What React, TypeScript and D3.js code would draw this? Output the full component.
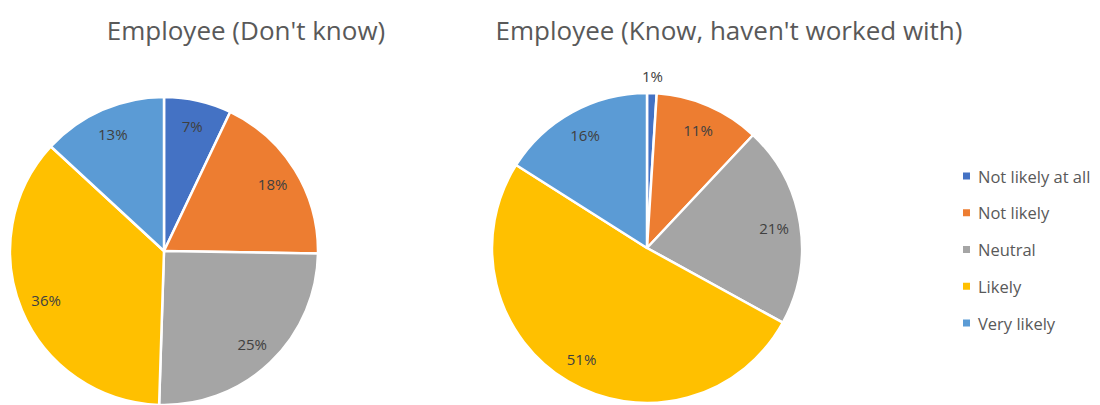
import React from "react";
import * as d3 from "d3";

const categories = ["Not likely at all", "Not likely", "Neutral", "Likely", "Very likely"];
const colors = ["#4472C4", "#ED7D31", "#A5A5A5", "#FFC000", "#5B9BD5"];
const dontKnowValues = [7, 18, 25, 36, 13];
const knowValues = [1, 11, 21, 51, 16];
const titles = ["Employee (Don't know)", "Employee (Know, haven't worked with)"];

const W = 1100;
const H = 405;
const FONT = "'Open Sans', 'Liberation Sans', sans-serif";

type PieProps = { values: number[]; cx: number; cy: number; r: number };

function Pie({ values, cx, cy, r }: PieProps) {
  const pie = d3.pie<number>().sort(null).value((d) => d);
  const arcs = pie(values);
  const arc = d3.arc<d3.PieArcDatum<number>>().innerRadius(0).outerRadius(r);
  const labelArc = d3.arc<d3.PieArcDatum<number>>().innerRadius(r * 0.83).outerRadius(r * 0.83);
  const outArc = d3.arc<d3.PieArcDatum<number>>().innerRadius(r * 1.11).outerRadius(r * 1.11);
  return (
    <g transform={`translate(${cx},${cy})`}>
      {arcs.map((a, i) => (
        <path key={i} d={arc(a) || ""} fill={colors[i]} stroke="#fff" strokeWidth={2.5} strokeLinejoin="round" />
      ))}
      {arcs.map((a, i) => {
        const small = a.endAngle - a.startAngle < 0.15;
        const [x, y] = small ? outArc.centroid(a) : labelArc.centroid(a);
        return (
          <text key={"t" + i} x={x} y={y} textAnchor="middle" dominantBaseline="central"
            fontSize={15} fill="#404040" fontFamily={FONT}>
            {values[i]}%
          </text>
        );
      })}
    </g>
  );
}

export default function App() {
  const legendY = d3.scalePoint<string>().domain(categories).range([176, 323]);
  return (
    <svg width={W} height={H} style={{ position: "absolute", left: 0, top: 0, background: "#fff" }}>
      <rect width={W} height={H} fill="#fff" />
      <text x={246} y={40} textAnchor="middle" fontSize={26} fill="#595959" fontFamily={FONT}>{titles[0]}</text>
      <text x={729} y={40} textAnchor="middle" fontSize={26} fill="#595959" fontFamily={FONT}>{titles[1]}</text>
      <Pie values={dontKnowValues} cx={164} cy={251} r={154} />
      <Pie values={knowValues} cx={647} cy={248} r={155} />
      {categories.map((c, i) => (
        <g key={c} transform={`translate(963,${legendY(c)})`}>
          <rect x={0} y={-3.5} width={7} height={7} fill={colors[i]} />
          <text x={15} y={0} dominantBaseline="central" fontSize={16.5} fill="#595959" fontFamily={FONT}>{c}</text>
        </g>
      ))}
    </svg>
  );
}
